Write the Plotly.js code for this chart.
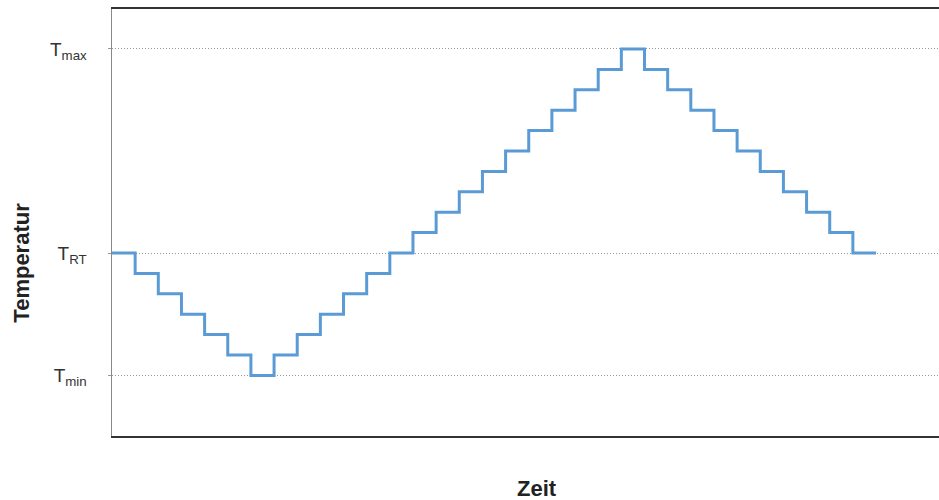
<!DOCTYPE html>
<html>
<head>
<meta charset="utf-8">
<script src="https://cdn.plot.ly/plotly-3.0.1.min.js"></script>
<style>html,body{margin:0;padding:0;background:#fff;}#chart{width:939px;height:500px;}</style>
</head>
<body>
<div id="chart"></div>
<script>
// Time steps (arbitrary units) and temperature levels (steps relative to T_RT)
const zeit = [0,1,2,3,4,5,6,7,8,9,10,11,12,13,14,15,16,17,18,19,20,21,22,23,24,25,26,27,28,29,30,31,32,33];
const temperatur = [0,-1,-2,-3,-4,-5,-6,-5,-4,-3,-2,-1,0,1,2,3,4,5,6,7,8,9,10,9,8,7,6,5,4,3,2,1,0,0];
const tickValues = [-6, 0, 10];
const tickLabels = ['T<sub>min</sub>', 'T<sub>RT</sub>', 'T<sub>max</sub>'];

const trace = {
  x: zeit,
  y: temperatur,
  type: 'scatter',
  mode: 'lines',
  line: {shape: 'hv', color: '#5B9BD5', width: 3},
  hoverinfo: 'skip'
};

const layout = {
  width: 939, height: 500,
  margin: {l: 112, r: 0, t: 9, b: 64},
  paper_bgcolor: '#fff', plot_bgcolor: '#fff',
  showlegend: false,
  font: {family: 'Liberation Sans, Arial, sans-serif'},
  xaxis: {
    range: [0, 35.72],
    showgrid: false, zeroline: false,
    showticklabels: false, ticks: '',
    showline: true, linecolor: '#333', linewidth: 2, mirror: true
  },
  yaxis: {
    range: [-8.97, 11.96],
    tickvals: tickValues, ticktext: tickLabels,
    tickfont: {size: 19, color: '#333'},
    ticks: 'outside', ticklen: 3, tickcolor: '#999',
    ticklabelstandoff: 17,
    showgrid: true, gridcolor: '#999', gridwidth: 1, griddash: '1px,2px',
    zeroline: false,
    showline: true, linecolor: '#888', linewidth: 1.5
  },
  annotations: [
    {text: '<b>Zeit</b>', xref: 'paper', yref: 'paper', x: 0.514, y: -0.122,
     xanchor: 'center', yanchor: 'middle', showarrow: false,
     font: {size: 22, color: '#222'}},
    {text: '<b>Temperatur</b>', xref: 'paper', yref: 'paper', x: -0.1088, y: 0.406,
     xanchor: 'center', yanchor: 'middle', showarrow: false, textangle: -90,
     font: {size: 22, color: '#222'}}
  ]
};

Plotly.newPlot('chart', [trace], layout, {staticPlot: true, displayModeBar: false});
</script>
</body>
</html>
